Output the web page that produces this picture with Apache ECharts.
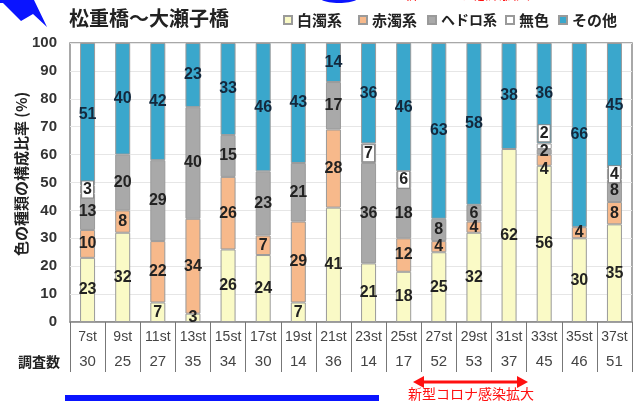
<!DOCTYPE html>
<html>
<head>
<meta charset="utf-8">
<script src="https://cdn.jsdelivr.net/npm/echarts@6/dist/echarts.min.js"></script>
<style>
html,body{margin:0;padding:0;background:#fff;}
#chart{width:637px;height:401px;}
</style>
</head>
<body>
<div id="chart"></div>
<script>
const categories = ['7st','9st','11st','13st','15st','17st','19st','21st','23st','25st','27st','29st','31st','33st','35st','37st'];
const surveyCounts = [30,25,27,35,34,30,14,36,14,17,52,53,37,45,46,51];
const seriesNames = ['白濁系','赤濁系','ヘドロ系','無色','その他'];
const hakudaku = [23,32,7,3,26,24,7,41,21,18,25,32,62,56,30,35];
const sekidaku = [10,8,22,34,26,7,29,28,0,12,4,4,0,4,4,8];
const hedoro   = [13,20,29,40,15,23,21,17,36,18,8,6,0,2,0,8];
const mushoku  = [3,0,0,0,0,0,0,0,7,6,0,0,0,2,0,4];
const sonota   = [51,40,42,23,33,46,43,14,36,46,63,58,38,36,66,45];

const seriesValues = [hakudaku, sekidaku, hedoro, mushoku, sonota];
const colors = ['#fafac6','#f7b98b','#a9a9a9','#ffffff','#3aa7cc'];
const labelColors = ['#222','#222','#222','#222','#14283c'];
const labelNudge = { '33st': { '赤濁系': [0, 9], '無色': [0, -13] } };

const chart = echarts.init(document.getElementById('chart'), null, {renderer:'canvas'});

const series = seriesNames.map((name, si) => ({
  name: name,
  type: 'bar',
  stack: 'total',
  barWidth: 15,
  itemStyle: { color: colors[si], borderColor: '#9a9a9a', borderWidth: 1 },
  label: {
    show: true,
    position: 'inside',
    formatter: '{c}',
    fontFamily: 'Liberation Sans, Arial, sans-serif',
    fontWeight: 'bold',
    fontSize: 16,
    color: labelColors[si],
    backgroundColor: name === '無色' ? '#fff' : 'transparent',
    borderColor: name === '無色' ? '#888' : 'transparent',
    borderWidth: name === '無色' ? 1 : 0,
    padding: name === '無色' ? [0, 1] : 0
  },
  data: seriesValues[si].map((v, i) => {
    if (v === 0) return '-';
    const nudge = labelNudge[categories[i]] && labelNudge[categories[i]][name];
    return nudge ? { value: v, label: { offset: nudge } } : v;
  })
}));

const legendLefts = [283, 358, 427, 505, 558];
const legends = seriesNames.map((name, i) => ({
  data: [name],
  left: legendLefts[i],
  top: 11,
  orient: 'horizontal',
  icon: 'rect',
  itemWidth: 8,
  itemHeight: 8,
  padding: 0,
  selectedMode: false,
  textStyle: { fontFamily: 'Noto Sans CJK JP', fontWeight: 'bold', fontSize: name === 'ヘドロ系' ? 14 : 15, color: '#222', lineHeight: 18 }
}));

const option = {
  backgroundColor: '#fff',
  animation: false,
  title: {
    text: '松重橋～大瀬子橋',
    left: 69, top: 8, padding: 0,
    textStyle: { fontFamily: 'Noto Sans CJK JP', fontWeight: 'bold', fontSize: 20, color: '#222' }
  },
  legend: legends,
  grid: { left: 70, right: 5, top: 43, bottom: 79, show: true, borderColor: '#8c8c8c', borderWidth: 1.5, containLabel: false },
  xAxis: {
    type: 'category',
    data: categories,
    boundaryGap: true,
    axisLine: { show: true, lineStyle: { color: '#888', width: 1.5 } },
    axisTick: { show: true, interval: 0, alignWithLabel: false, length: 50, lineStyle: { color: '#777', width: 1 } },
    axisLabel: {
      interval: 0,
      margin: 0,
      formatter: (v, i) => '{a|' + v + '}\n{b|' + surveyCounts[i] + '}',
      rich: {
        a: { fontFamily: 'Liberation Sans, Arial, sans-serif', fontSize: 14, color: '#444', lineHeight: 30, height: 30 },
        b: { fontFamily: 'Liberation Sans, Arial, sans-serif', fontSize: 15, color: '#444', lineHeight: 20, height: 20 }
      }
    }
  },
  yAxis: {
    type: 'value',
    min: 0, max: 100, interval: 10,
    axisLine: { show: false },
    axisTick: { show: false },
    axisLabel: { margin: 13, fontFamily: 'Liberation Sans, Arial, sans-serif', fontSize: 15, fontWeight: 'bold', color: '#333' },
    splitLine: { show: true, lineStyle: { color: '#e6e6e6', width: 1 } }
  },
  series: series,
  graphic: [
    { type: 'polygon', shape: { points: [[0,0],[34,0],[47,27],[33,14],[21,21],[3,3],[0,3]] }, style: { fill: '#0a14ff' } },
    { type: 'ellipse', shape: { cx: 339, cy: -4, rx: 21, ry: 7 }, style: { fill: '#0a14ff' } },
    { type: 'text', x: 467, y: -6, style: { text: '新型コロナ感染拡大', fill: '#ff1010', fontFamily: 'Noto Sans CJK JP', fontSize: 14, align: 'center', verticalAlign: 'middle' } },
    { type: 'text', x: 21, y: 174, rotation: Math.PI / 2, style: { text: '色の種類の構成比率 (%)', fill: '#222', fontFamily: 'Noto Sans CJK JP', fontWeight: 'bold', fontSize: 15, align: 'center', verticalAlign: 'middle' } },
    { type: 'text', x: 18, y: 362, style: { text: '調査数', fill: '#222', fontFamily: 'Noto Sans CJK JP', fontWeight: 'bold', fontSize: 14, align: 'left', verticalAlign: 'middle' } },
    { type: 'line', shape: { x1: 420, y1: 382, x2: 521, y2: 382 }, style: { stroke: '#ff1010', lineWidth: 3 } },
    { type: 'polygon', shape: { points: [[413,382],[424,376],[424,388]] }, style: { fill: '#ff1010' } },
    { type: 'polygon', shape: { points: [[528,382],[517,376],[517,388]] }, style: { fill: '#ff1010' } },
    { type: 'text', x: 471, y: 394, style: { text: '新型コロナ感染拡大', fill: '#ff1010', fontFamily: 'Noto Sans CJK JP', fontSize: 14, align: 'center', verticalAlign: 'middle' } },
    { type: 'rect', shape: { x: 65, y: 395, width: 314, height: 6 }, style: { fill: '#0a14ff' } }
  ]
};
chart.setOption(option);
</script>
</body>
</html>
